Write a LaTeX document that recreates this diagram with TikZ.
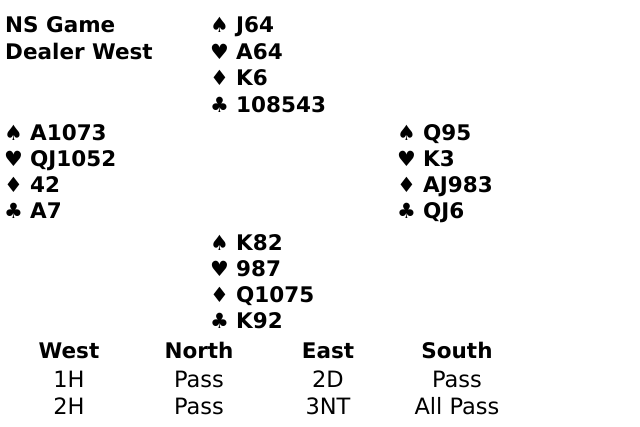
\documentclass[tikz,border=0pt]{standalone}
\usepackage{fontspec}
\setmainfont{DejaVu Sans}
\newfontfamily\suitfont{DejaVu Sans}
\newcommand{\suit}[1]{\makebox[26pt][l]{\suitfont\fontsize{21}{21}\selectfont #1}}

\begin{document}
\begin{tikzpicture}[x=1pt,y=-1pt]
\useasboundingbox (0,0) rectangle (640,426);

\begin{scope}[every node/.style={anchor=base west,inner sep=0pt,
              font=\fontsize{21.5}{21.5}\selectfont\bfseries}]
    \node (G1) at (5,32.5) {NS Game};
    \node (G2) at (5,59) {Dealer West};
    % North
    \node (N1) at (210,32.5) {\suit{♠}J64};
    \node (N2) at (210,59) {\suit{♥}A64};
    \node (N3) at (210,85.5) {\suit{♦}K6};
    \node (N4) at (210,112) {\suit{♣}108543};
    % West
    \node (W1) at (4,140) {\suit{♠}A1073};
    \node (W2) at (4,166) {\suit{♥}QJ1052};
    \node (W3) at (4,192) {\suit{♦}42};
    \node (W4) at (4,218) {\suit{♣}A7};
    % East
    \node (E1) at (397,140) {\suit{♠}Q95};
    \node (E2) at (397,166) {\suit{♥}K3};
    \node (E3) at (397,192) {\suit{♦}AJ983};
    \node (E4) at (397,218) {\suit{♣}QJ6};
    % South
    \node (S1) at (210,250) {\suit{♠}K82};
    \node (S2) at (210,276) {\suit{♥}987};
    \node (S3) at (210,302) {\suit{♦}Q1075};
    \node (S4) at (210,328) {\suit{♣}K92};
\end{scope}

\begin{scope}[every node/.style={anchor=base,inner sep=0pt,
              font=\fontsize{22.5}{22.5}\selectfont},
              bidhead/.style={font=\fontsize{21.5}{21.5}\selectfont\bfseries}]
    \node[bidhead] (BW) at (69,358) {West};
    \node[bidhead] (BN) at (199,358) {North};
    \node[bidhead] (BE) at (328,358) {East};
    \node[bidhead] (BS) at (457,358) {South};
    \node (W5) at (69,387) {1H};
    \node (N5) at (199,387) {Pass};
    \node (E5) at (328,387) {2D};
    \node (S5) at (457,387) {Pass};
    \node (W6) at (69,414) {2H};
    \node (N6) at (199,414) {Pass};
    \node (E6) at (328,414) {3NT};
    \node (S6) at (457,414) {All Pass};
\end{scope}
\end{tikzpicture}
\end{document}
